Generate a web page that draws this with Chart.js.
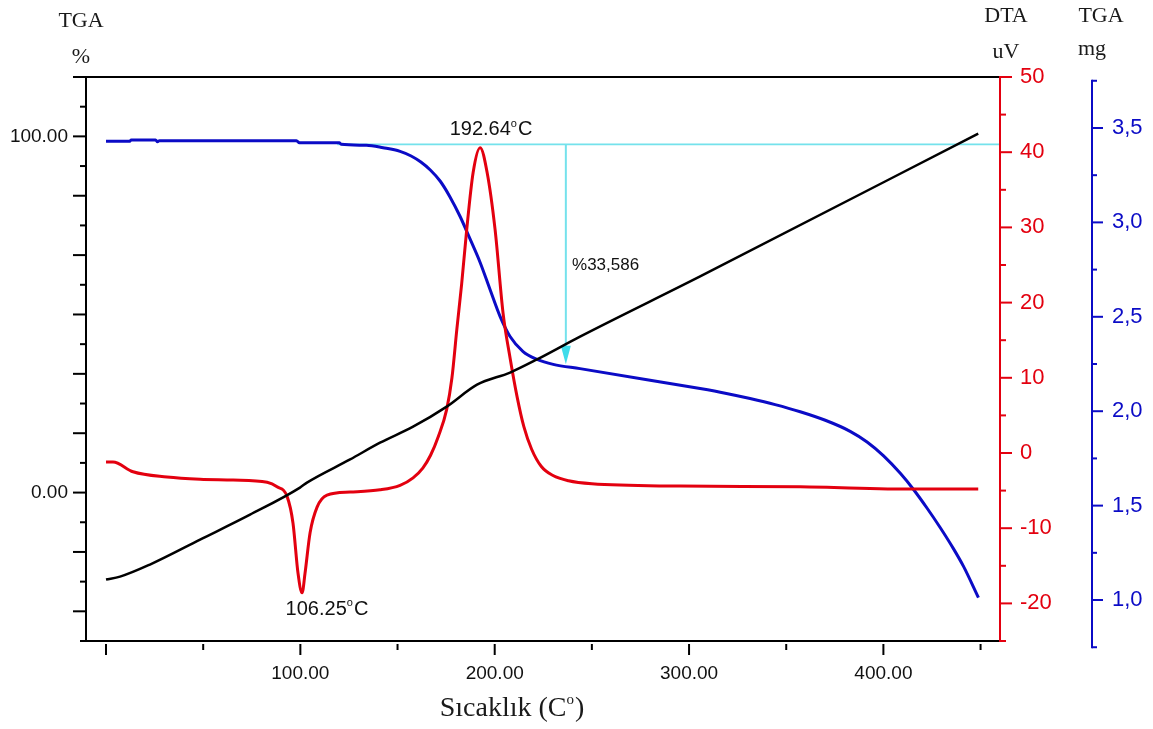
<!DOCTYPE html>
<html>
<head>
<meta charset="utf-8">
<script src="https://cdn.jsdelivr.net/npm/chart.js@4.4.1/dist/chart.umd.min.js"></script>
<style>
html,body{margin:0;padding:0;background:#ffffff;}
canvas{display:block;}
</style>
</head>
<body>
<canvas id="c" width="1153" height="729"></canvas>
<script>
// ---------- DATA ----------
// Black reference line (plotted on the TGA % axis)
const tempBlack = [0, 7.2, 22.6, 48.4, 74.1, 99.8, 103.4, 125.6, 141.0, 158.0, 175.5, 190.9, 207.9, 221.8, 243.9, 305.7, 448.8];
const valBlack  = [-24.4, -23.6, -20.2, -13.2, -6.2, 1.4, 2.8, 9.3, 14.0, 18.5, 24.2, 30.3, 33.7, 37.4, 43.8, 60.7, 100.8];

// TGA curve (%)
const tempTga = [0, 12, 13, 25.5, 26.5, 27.5, 98, 99.5, 120, 121, 134, 142.6, 151.3, 157, 162, 167, 172, 177, 182.2, 187.3, 192.5, 197.6, 202.8, 207.9, 214.6, 221.8, 230.1, 243.9, 278.4, 305.7, 318.6, 331.4, 344.3, 357.2, 370.1, 382.9, 391.6, 400.1, 408.7, 415.6, 422.5, 429.2, 436.1, 441.3, 448.9];
const tgaPct   = [98.6, 98.6, 99.0, 99.0, 98.5, 98.8, 98.8, 98.2, 98.2, 97.8, 97.5, 96.8, 95.8, 94.5, 92.8, 90.5, 87.4, 83.0, 77.5, 71.2, 64.6, 57.0, 49.4, 43.8, 39.6, 37.4, 36.0, 34.8, 31.7, 29.2, 27.9, 26.4, 24.7, 22.7, 20.3, 17.2, 14.2, 10.3, 5.4, 0.8, -4.4, -9.8, -15.8, -20.8, -29.5];

// DTA curve (uV)
const tempDta = [0, 3.6, 13.9, 31.4, 48.4, 65.4, 82.9, 88.0, 93.2, 96.2, 98.8, 100.9, 102.4, 105.0, 108.6, 113.7, 125.6, 141.0, 151.3, 158.0, 163.0, 167.0, 171.0, 175.3, 178.0, 180.5, 183.0, 185.6, 188.9, 192.5, 196.1, 200.2, 204.3, 208.0, 211.5, 215.0, 219.0, 224.0, 230.0, 238.0, 250.0, 295.4, 357.2, 416.4, 448.8];
const dtaUv   = [-1.2, -1.2, -2.5, -3.2, -3.5, -3.6, -3.9, -4.5, -5.8, -9.3, -16.0, -18.6, -16.0, -10.6, -7.2, -5.6, -5.2, -4.9, -4.3, -3.3, -2.0, -0.3, 2.2, 5.8, 10.0, 16.4, 22.5, 29.7, 37.3, 40.6, 37.3, 29.7, 18.6, 12.5, 7.5, 3.5, 0.5, -1.8, -3.0, -3.7, -4.1, -4.4, -4.5, -4.8, -4.8];

// Ticks
const xMajorTicks = [0, 100, 200, 300, 400];
const xMinorTicks = [50, 150, 250, 350, 450];
const xTickLabels = ['', '100.00', '200.00', '300.00', '400.00'];

const pctMajorTicks = [-33.333, -16.667, 0, 16.667, 33.333, 50, 66.667, 83.333, 100, 116.667];
const pctMinorTicks = [-41.667, -25, -8.333, 8.333, 25, 41.667, 58.333, 75, 91.667, 108.333];
const pctTickLabels = ['', '', '0.00', '', '', '', '', '', '100.00', ''];

const dtaMajorTicks = [-20, -10, 0, 10, 20, 30, 40, 50];
const dtaMinorTicks = [-25, -15, -5, 5, 15, 25, 35, 45];
const dtaTickLabels = ['-20', '-10', '0', '10', '20', '30', '40', '50'];

const mgMajorTicks = [1.0, 1.5, 2.0, 2.5, 3.0, 3.5];
const mgMinorTicks = [0.75, 1.25, 1.75, 2.25, 2.75, 3.25, 3.75];
const mgTickLabels = ['1,0', '1,5', '2,0', '2,5', '3,0', '3,5'];

// ---------- STYLE ----------
const RED = '#e3000f';
const BLUE = '#0b0bc6';
const CYAN = '#74e2ec';
const SANS = '"Liberation Sans", Arial, sans-serif';
const SERIF = '"Liberation Serif", "Times New Roman", serif';

const toPts = (xs, ys) => xs.map((x, i) => ({x: x, y: ys[i]}));
const setTicks = (majors) => (axis) => { axis.ticks = majors.map(v => ({value: v})); };

function seg(ctx, x1, y1, x2, y2) {
  ctx.beginPath(); ctx.moveTo(x1, y1); ctx.lineTo(x2, y2); ctx.stroke();
}

function drawDeg(ctx, cx, baseY, main, tail, size, family, supScale, align) {
  ctx.font = size + 'px ' + family;
  const w1 = ctx.measureText(main).width;
  const w3 = ctx.measureText(tail).width;
  const supSize = Math.round(size * supScale);
  ctx.font = supSize + 'px ' + family;
  const w2 = ctx.measureText('o').width;
  const total = w1 + w2 + w3 + 1;
  let x = align === 'left' ? cx : cx - total / 2;
  ctx.textAlign = 'left';
  ctx.textBaseline = 'alphabetic';
  ctx.font = size + 'px ' + family;
  ctx.fillText(main, x, baseY);
  ctx.font = supSize + 'px ' + family;
  ctx.fillText('o', x + w1, baseY - size * 0.42);
  ctx.font = size + 'px ' + family;
  ctx.fillText(tail, x + w1 + w2 + 1, baseY);
}

const framePlugin = {
  id: 'frame',
  beforeDatasetsDraw(chart) {
    const {ctx, chartArea: ca, scales} = chart;
    const xs = scales.x, yP = scales.yPct, yD = scales.yDta, yM = scales.yMg;
    ctx.save();
    ctx.lineCap = 'butt';

    // cyan mass-loss marker
    ctx.strokeStyle = CYAN;
    ctx.lineWidth = 1.6;
    const hy = yP.getPixelForValue(97.75);
    seg(ctx, xs.getPixelForValue(119), hy, ca.right, hy);
    const ax = xs.getPixelForValue(236.6);
    const tipY = yP.getPixelForValue(36.0);
    const baseY = yP.getPixelForValue(41.2);
    ctx.lineWidth = 2;
    seg(ctx, ax, hy, ax, baseY + 1);
    ctx.fillStyle = '#3fdcea';
    ctx.beginPath();
    ctx.moveTo(ax - 5, baseY);
    ctx.lineTo(ax + 5, baseY);
    ctx.lineTo(ax, tipY);
    ctx.closePath();
    ctx.fill();

    // black frame
    ctx.strokeStyle = '#000';
    ctx.lineWidth = 2;
    seg(ctx, ca.left - 13, ca.top, ca.right, ca.top);
    seg(ctx, ca.left, ca.top, ca.left, ca.bottom + 1);
    seg(ctx, ca.left - 6, ca.bottom, ca.right, ca.bottom);

    // left ticks
    pctMajorTicks.forEach(v => { const y = yP.getPixelForValue(v); seg(ctx, ca.left - 13, y, ca.left, y); });
    pctMinorTicks.forEach(v => { const y = yP.getPixelForValue(v); seg(ctx, ca.left - 6, y, ca.left, y); });
    // bottom ticks
    xMajorTicks.forEach(v => { const x = xs.getPixelForValue(v); seg(ctx, x, ca.bottom + 3, x, ca.bottom + 14); });
    xMinorTicks.forEach(v => { const x = xs.getPixelForValue(v); seg(ctx, x, ca.bottom + 3, x, ca.bottom + 9); });

    // red DTA axis
    ctx.strokeStyle = RED;
    seg(ctx, ca.right, ca.top - 1, ca.right, ca.bottom + 1);
    dtaMajorTicks.forEach(v => { const y = yD.getPixelForValue(v); seg(ctx, ca.right, y, ca.right + 12, y); });
    dtaMinorTicks.forEach(v => { const y = yD.getPixelForValue(v); seg(ctx, ca.right, y, ca.right + 6, y); });

    // blue mg axis
    ctx.strokeStyle = BLUE;
    const bx = yM.left;
    seg(ctx, bx, yM.getPixelForValue(3.75) - 1, bx, yM.getPixelForValue(0.75) + 1);
    mgMajorTicks.forEach(v => { const y = yM.getPixelForValue(v); seg(ctx, bx, y, bx + 11, y); });
    mgMinorTicks.forEach(v => { const y = yM.getPixelForValue(v); seg(ctx, bx, y, bx + 5, y); });
    ctx.restore();
  },
  afterDatasetsDraw(chart) {
    const {ctx, scales} = chart;
    const xs = scales.x, yP = scales.yPct;
    ctx.save();
    ctx.fillStyle = '#111';
    drawDeg(ctx, xs.getPixelForValue(198.1), yP.getPixelForValue(100.3), '192.64', 'C', 20, SANS, 0.55, 'center');
    drawDeg(ctx, xs.getPixelForValue(113.7), yP.getPixelForValue(-34.3), '106.25', 'C', 20, SANS, 0.55, 'center');
    ctx.font = '17px ' + SANS;
    ctx.textAlign = 'left';
    ctx.textBaseline = 'alphabetic';
    ctx.fillText('%33,586', xs.getPixelForValue(239.8), yP.getPixelForValue(62.6));

    // axis titles
    ctx.fillStyle = '#1a1a1a';
    ctx.font = '22px ' + SERIF;
    ctx.textAlign = 'center';
    ctx.fillText('TGA', 81, 27);
    ctx.fillText('%', 81, 63);
    ctx.fillText('DTA', 1006, 22);
    ctx.fillText('uV', 1006, 58);
    ctx.fillText('TGA', 1101, 22);
    ctx.fillText('mg', 1092, 55);
    drawDeg(ctx, 512, 716, 'Sıcaklık (C', ')', 28, SERIF, 0.55, 'center');
    ctx.restore();
  }
};

const tickFont = (size) => ({family: SANS, size: size});

new Chart(document.getElementById('c'), {
  type: 'line',
  data: {
    datasets: [
      {label: 'Ref', data: toPts(tempBlack, valBlack), xAxisID: 'x', yAxisID: 'yPct', borderColor: '#000', borderWidth: 2.5, cubicInterpolationMode: 'monotone', tension: 0.4, pointRadius: 0, fill: false},
      {label: 'DTA', data: toPts(tempDta, dtaUv), xAxisID: 'x', yAxisID: 'yDta', borderColor: RED, borderWidth: 3, cubicInterpolationMode: 'monotone', tension: 0.4, pointRadius: 0, fill: false},
      {label: 'TGA', data: toPts(tempTga, tgaPct), xAxisID: 'x', yAxisID: 'yPct', borderColor: BLUE, borderWidth: 3, cubicInterpolationMode: 'monotone', tension: 0.4, pointRadius: 0, fill: false}
    ]
  },
  options: {
    responsive: false,
    animation: false,
    devicePixelRatio: 1,
    layout: {padding: {top: 77, left: 0, right: 0, bottom: 0}},
    plugins: {legend: {display: false}, tooltip: {enabled: false}},
    elements: {point: {radius: 0}},
    scales: {
      x: {
        type: 'linear', position: 'bottom', min: -10.3, max: 460,
        afterBuildTicks: setTicks(xMajorTicks),
        afterFit: (s) => { s.height = 88; },
        grid: {display: false, drawTicks: false, tickLength: 0},
        border: {display: false},
        ticks: {padding: 21, autoSkip: false, maxRotation: 0, color: '#111', font: tickFont(19), callback: (v, i) => xTickLabels[i]}
      },
      yPct: {
        type: 'linear', position: 'left', min: -41.667, max: 116.667,
        afterBuildTicks: setTicks(pctMajorTicks),
        afterFit: (s) => { s.width = 86; },
        grid: {display: false, drawTicks: false, tickLength: 0},
        border: {display: false},
        ticks: {padding: 18, autoSkip: false, color: '#111', font: tickFont(19), callback: (v, i) => pctTickLabels[i]}
      },
      yDta: {
        type: 'linear', position: 'right', min: -25, max: 50,
        afterBuildTicks: setTicks(dtaMajorTicks),
        afterFit: (s) => { s.width = 92; },
        grid: {display: false, drawTicks: false, tickLength: 0},
        border: {display: false},
        ticks: {padding: 20, autoSkip: false, color: RED, font: tickFont(22), callback: (v, i) => dtaTickLabels[i]}
      },
      yMg: {
        type: 'linear', position: 'right', min: 0.783, max: 3.770,
        afterBuildTicks: setTicks(mgMajorTicks),
        afterFit: (s) => { s.width = 61; },
        grid: {display: false, drawTicks: false, tickLength: 0},
        border: {display: false},
        ticks: {padding: 20, autoSkip: false, color: BLUE, font: tickFont(22), callback: (v, i) => mgTickLabels[i]}
      }
    }
  },
  plugins: [framePlugin]
});
</script>
</body>
</html>
